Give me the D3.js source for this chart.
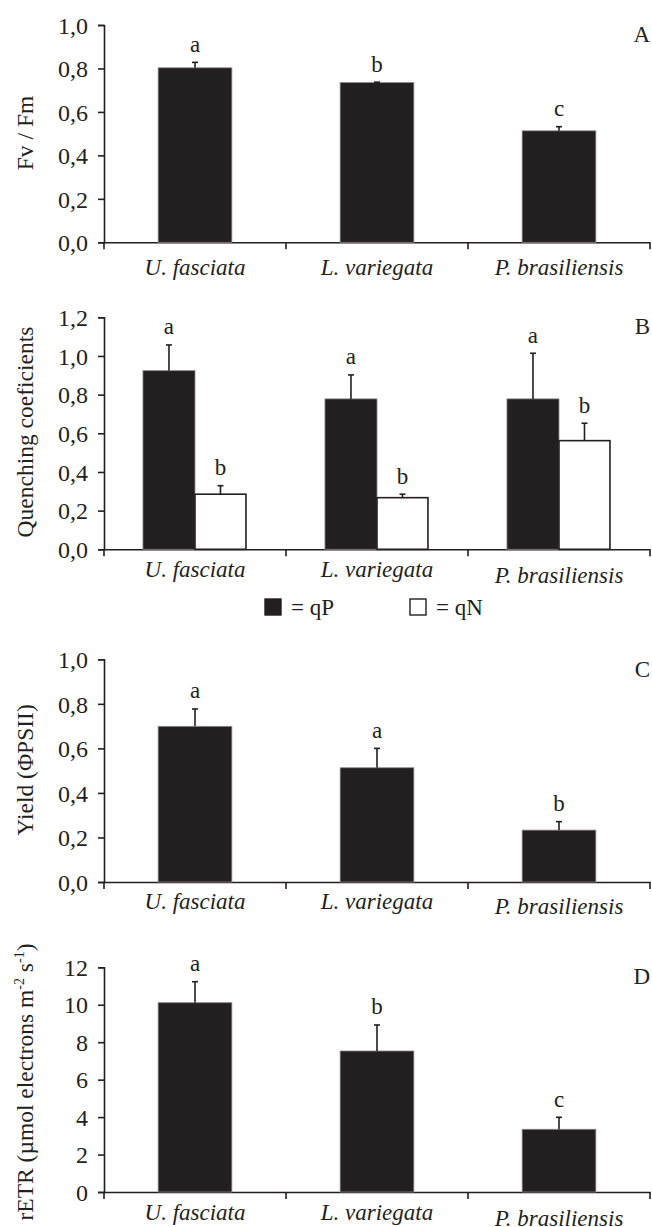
<!DOCTYPE html>
<html><head><meta charset="utf-8">
<script src="https://cdn.jsdelivr.net/npm/d3@7"></script>
<style>
body{margin:0;background:#fff;}
svg, text{font-family:"Liberation Serif","Times New Roman",serif;}
text{fill:#231f20;}
</style></head>
<body><svg id="c" width="652" height="1227" font-family="Liberation Serif, serif"></svg>
<script>
const species = ["U. fasciata","L. variegata","P. brasiliensis"];
// Panel A: Fv/Fm
const fvfm = [0.803, 0.735, 0.513];
const fvfmErr = [0.025, 0.002, 0.019];
const fvfmLetters = ["a","b","c"];
// Panel B: quenching coefficients
const qP = [0.924, 0.778, 0.778];
const qPErr = [0.133, 0.124, 0.236];
const qPLetters = ["a","a","a"];
const qN = [0.285, 0.267, 0.562];
const qNErr = [0.044, 0.018, 0.090];
const qNLetters = ["b","b","b"];
// Panel C: Yield
const yieldV = [0.699, 0.513, 0.233];
const yieldErr = [0.078, 0.087, 0.038];
const yieldLetters = ["a","a","b"];
// Panel D: rETR
const retr = [10.11, 7.53, 3.35];
const retrErr = [1.12, 1.39, 0.64];
const retrLetters = ["a","b","c"];
const ticks01 = [0,0.2,0.4,0.6,0.8,1.0];
const ticks12 = [0,0.2,0.4,0.6,0.8,1.0,1.2];
const ticksD = [0,2,4,6,8,10,12];

const svg = d3.select("#c");
const dark = "#231f20";
const commaFmt = d => d3.format(".1f")(d).replace(".", ",");
const FF = '"Liberation Serif","Times New Roman",serif';

function panel(cfg){
  const g = svg.append("g");
  const x = d3.scaleBand().domain(species).range([104, 650]).padding(0);
  const y = d3.scaleLinear().domain(cfg.domain).range([cfg.y0, cfg.y1]);
  // y axis
  const ya = d3.axisLeft(y).tickValues(cfg.ticks).tickFormat(cfg.fmt).tickSize(6).tickPadding(10);
  const yg = g.append("g").attr("transform","translate(104,0)").call(ya);
  yg.attr("font-family", FF);
  yg.select(".domain").attr("stroke",dark).attr("stroke-width",1.6);
  yg.selectAll(".tick line").attr("stroke",dark).attr("stroke-width",1.6);
  yg.selectAll(".tick text").attr("font-size",24).attr("fill",dark)
    .style("font-family",FF).attr("dy","0.34em");
  // x axis baseline
  const xa = d3.axisBottom(x).tickSize(0).tickFormat("");
  const xg = g.append("g").attr("transform",`translate(0,${cfg.y0})`).call(xa);
  xg.select(".domain").attr("stroke",dark).attr("stroke-width",1.6);
  xg.selectAll(".tick").remove();
  // boundary ticks
  const bounds = species.map(d => x(d)).concat([x.range()[1]]);
  g.selectAll(".bt").data(bounds).join("line")
    .attr("x1",d=>d).attr("x2",d=>d).attr("y1",cfg.y0).attr("y2",cfg.y0+7)
    .attr("stroke",dark).attr("stroke-width",1.6);
  // species labels
  g.selectAll(".sl").data(species).join("text")
    .attr("x", d => x(d)+x.bandwidth()/2)
    .attr("y", (d,i) => cfg.y0 + (cfg.labelDy[i]))
    .attr("text-anchor","middle").attr("font-size",23).attr("font-style","italic")
    .style("font-family",FF)
    .text(d=>d);
  // series
  cfg.series.forEach(s => {
    const bw = x.bandwidth()*s.w;
    const bx = d => x(d) + x.bandwidth()/2 + s.off*x.bandwidth();
    g.selectAll(null).data(species).join("rect")
      .attr("x", d => bx(d) - bw/2).attr("width", bw)
      .attr("y", (d,i) => y(s.v[i])).attr("height",(d,i)=> y(0)-y(s.v[i]))
      .attr("fill", s.fill).attr("stroke", s.fill===dark ? "#8a8a8a" : dark)
      .attr("stroke-width", s.fill===dark ? 0.8 : 1.6);
    g.selectAll(null).data(species).join("line")
      .attr("x1", d=>bx(d)).attr("x2", d=>bx(d))
      .attr("y1",(d,i)=>y(s.v[i])).attr("y2",(d,i)=>y(s.v[i]+s.e[i]))
      .attr("stroke",dark).attr("stroke-width",1.6);
    g.selectAll(null).data(species).join("line")
      .attr("x1", d=>bx(d)-3).attr("x2", d=>bx(d)+3)
      .attr("y1",(d,i)=>y(s.v[i]+s.e[i])).attr("y2",(d,i)=>y(s.v[i]+s.e[i]))
      .attr("stroke",dark).attr("stroke-width",1.6);
    g.selectAll(null).data(species).join("text")
      .attr("x", d=>bx(d)).attr("y",(d,i)=>y(s.v[i]+s.e[i])-10.5)
      .attr("text-anchor","middle").attr("font-size",23).style("font-family",FF)
      .text((d,i)=>s.l[i]);
  });
  // panel letter
  g.append("text").attr("x",650).attr("y",cfg.letterY).attr("text-anchor","end")
    .attr("font-size",23).style("font-family",FF).text(cfg.letter);
  // y title
  const t = g.append("text").attr("transform",`translate(33,${cfg.titleY}) rotate(-90)`)
    .attr("text-anchor","middle").attr("font-size",23.5).style("font-family",FF);
  cfg.title(t);
}

panel({domain:[0,1], y0:242.3, y1:25, ticks:ticks01, fmt:commaFmt,
  labelDy:[33,33,33], letter:"A", letterY:42, titleY:133,
  title:t=>t.text("Fv / Fm"),
  series:[{v:fvfm,e:fvfmErr,l:fvfmLetters,fill:dark,w:0.405,off:0}]});
panel({domain:[0,1.2], y0:549.3, y1:317.3, ticks:ticks12, fmt:commaFmt,
  labelDy:[28,28,34], letter:"B", letterY:334, titleY:432,
  title:t=>t.text("Quenching coeficients"),
  series:[{v:qP,e:qPErr,l:qPLetters,fill:dark,w:0.286,off:-0.143},
          {v:qN,e:qNErr,l:qNLetters,fill:"#fff",w:0.28,off:0.14}]});
panel({domain:[0,1], y0:882, y1:659.3, ticks:ticks01, fmt:commaFmt,
  labelDy:[27,27,32], letter:"C", letterY:677, titleY:770,
  title:t=>t.text("Yield (ΦPSII)"),
  series:[{v:yieldV,e:yieldErr,l:yieldLetters,fill:dark,w:0.405,off:0}]});
panel({domain:[0,12], y0:1192, y1:967.3, ticks:ticksD, fmt:d3.format("d"),
  labelDy:[28,28,34], letter:"D", letterY:984, titleY:1082,
  title:t=>{
    t.append("tspan").text("rETR (µmol electrons m");
    t.append("tspan").attr("dy",-9).attr("font-size",14).text("-2");
    t.append("tspan").attr("dy",9).text(" s");
    t.append("tspan").attr("dy",-9).attr("font-size",14).text("-1");
    t.append("tspan").attr("dy",9).text(")");
  },
  series:[{v:retr,e:retrErr,l:retrLetters,fill:dark,w:0.405,off:0}]});

// legend
const legend = [{k:"qP",fill:dark,x:265},{k:"qN",fill:"#fff",x:410}];
const lg = svg.append("g");
lg.selectAll("rect").data(legend).join("rect")
  .attr("x",d=>d.x).attr("y",599).attr("width",16).attr("height",16)
  .attr("fill",d=>d.fill).attr("stroke",dark).attr("stroke-width",1.4);
lg.selectAll("text").data(legend).join("text")
  .attr("x",d=>d.x+26).attr("y",615).attr("font-size",23).style("font-family",FF)
  .text(d=>"= "+d.k);
</script></body></html>
